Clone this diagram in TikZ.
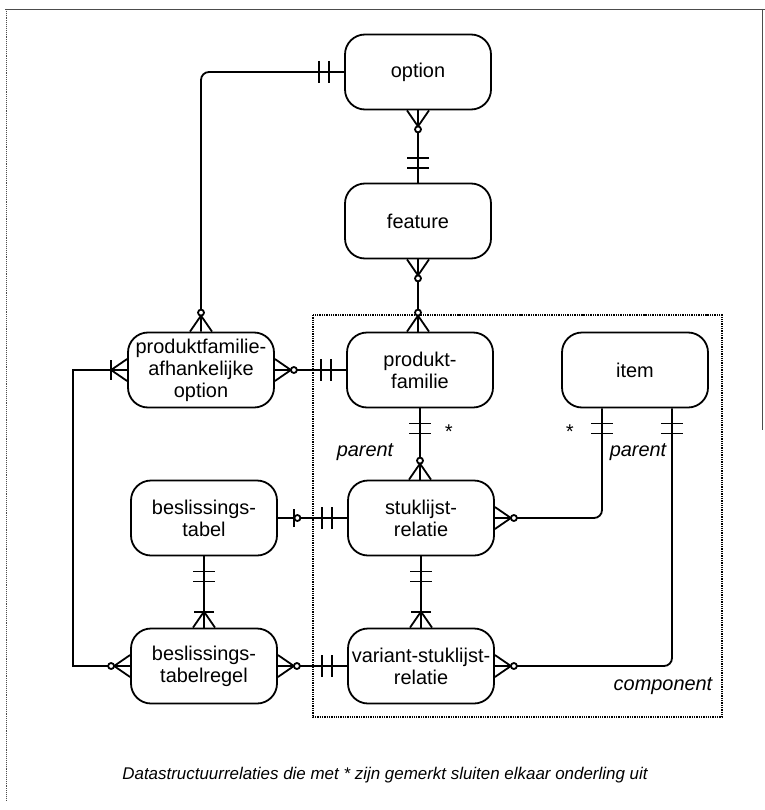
\documentclass[tikz,border=0pt]{standalone}
\usepackage{fontspec}
\newfontfamily\hv{Liberation Sans}
\usetikzlibrary{calc}
\tikzset{
  ercrow/.pic={\draw (0,11)--(16,0)--(0,-11); \draw[fill=white] (19,0) circle (3bp);},
  ercrowbar/.pic={\draw (0,11)--(16,0)--(0,-11); \draw (16,10)--(16,-10);},
  erone/.pic={\draw (15,11)--(15,-11); \draw (25,11)--(25,-11);},
  erzeroone/.pic={\draw (16,9)--(16,-9); \draw[fill=white] (19.5,0) circle (3bp);},
}
\begin{document}
\begin{tikzpicture}[x=1bp,y=-1bp,line width=1.8bp,
  ent/.style={draw, fill=white, rounded corners=20bp, minimum width=146bp, minimum height=75bp,
    align=center, inner sep=2bp, font=\hv\fontsize{20}{22}\selectfont},
  lbl/.style={font=\hv\itshape\fontsize{20}{22}\selectfont, inner sep=0pt},
  frameline/.style={line width=0.9bp, black!70}]
\useasboundingbox (0,0) rectangle (765,810);
% page frame (scan edges)
\draw[frameline] (5,9) -- (765,9);
\draw[frameline, densely dotted] (6,9) -- (6,800);
\draw[frameline] (762,9) -- (762,430);
% dotted grouping rectangle
\draw[densely dotted, line width=1.3bp] (313,315) rectangle (722,717);
% entities
\node[ent] (opt)  at (418,72)  {option};
\node[ent] (feat) at (418,221) {feature};
\node[ent] (pf)   at (420,370) {produkt-\\familie};
\node[ent] (item) at (635,370) {item};
\node[ent] (pfao) at (201,370) {produktfamilie-\\afhankelijke\\option};
\node[ent] (sl)   at (421,518) {stuklijst-\\relatie};
\node[ent] (bt)   at (204,518) {beslissings-\\tabel};
\node[ent] (btr)  at (204,666) {beslissings-\\tabelregel};
\node[ent] (vsl)  at (421,666) {variant-stuklijst-\\relatie};
% connectors
\draw[rounded corners=8bp] (opt.west) -| (pfao.north);
\draw (opt.south) -- (feat.north);
\draw (feat.south) -- (feat.south |- pf.north);
\draw (pfao.east) -- (pf.west);
\coordinate (lc) at (73,370);
\draw (pfao.west) -- (lc) |- (btr.west);
\draw (pf.south) -- (pf.south |- sl.north);
\coordinate (ia) at ($(item.south)+(-33,0)$);
\coordinate (ib) at ($(item.south)+(37,0)$);
\draw[rounded corners=8bp] (ia) |- (sl.east);
\draw[rounded corners=8bp] (ib) |- (vsl.east);
\draw (sl.south) -- (vsl.north);
\draw (bt.east) -- (sl.west);
\draw (bt.south) -- (btr.north);
\draw (btr.east) -- (vsl.west);
% ends
\pic[rotate=180] at (opt.west) {erone};
\pic[rotate=90] at (pfao.north) {ercrow};
\pic[rotate=-90] at (opt.south) {ercrow};
\pic[rotate=90] at (feat.north) {erone};
\pic[rotate=-90] at (feat.south) {ercrow};
\pic[rotate=90] at (feat.south |- pf.north) {ercrow};
\pic at (pfao.east) {ercrow};
\pic[rotate=180] at (pf.west) {erone};
\pic[rotate=180] at (pfao.west) {ercrowbar};
\pic[rotate=180] at (btr.west) {ercrow};
\pic[rotate=-90] at (pf.south) {erone};
\pic[rotate=90] at (pf.south |- sl.north) {ercrow};
\pic[rotate=-90] at (ia) {erone};
\pic at (sl.east) {ercrow};
\pic[rotate=-90] at (ib) {erone};
\pic at (vsl.east) {ercrow};
\pic[rotate=-90] at (sl.south) {erone};
\pic[rotate=90] at (vsl.north) {ercrowbar};
\pic at (bt.east) {erzeroone};
\pic[rotate=180] at (sl.west) {erone};
\pic[rotate=-90] at (bt.south) {erone};
\pic[rotate=90] at (btr.north) {ercrowbar};
\pic at (btr.east) {ercrow};
\pic[rotate=180] at (vsl.west) {erone};
% labels
\node[lbl] (star1) at (448,432) {*};
\node[lbl] (star2) at (569,432) {*};
\node[lbl] (par1) at (365,452) {parent};
\node[lbl] (par2) at (638,452) {parent};
\node[lbl] (comp) at (663,686) {component};
\node[font=\hv\itshape\fontsize{17}{20}\selectfont, inner sep=0pt] (cap) at (385,775)
  {Datastructuurrelaties die met * zijn gemerkt sluiten elkaar onderling uit};
\end{tikzpicture}
\end{document}
